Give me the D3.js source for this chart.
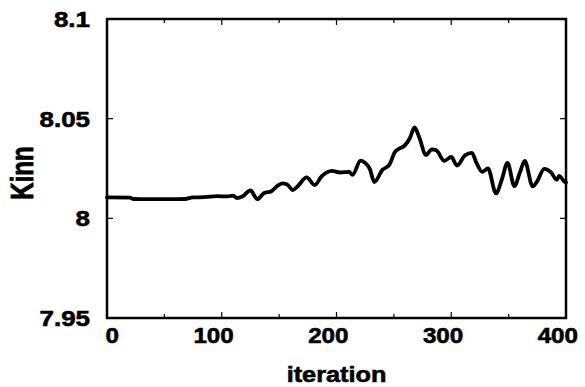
<!DOCTYPE html>
<html><head><meta charset="utf-8">
<script src="https://cdn.jsdelivr.net/npm/d3@7"></script>
<style>
body{margin:0;background:#fff;}
text{font-family:"Liberation Sans",Arial,sans-serif;font-weight:bold;fill:#000;stroke:#000;stroke-width:0.6;}
</style></head>
<body><div id="chart"></div>
<script>
const iterations = [0,20,23,37,55,68,75,85,96,105,110,113,118,125,131,137,143,149,153,157,162,166,174,181,187,196,203,211,214,221,225,229,233,240,246,251,255,259,264,268,272,278,283,287,294,300,305,312,318,322,327,332,339,344,349,355,360,364,371,375,381,387,392,394,399,400];
const kinn = [8.0105,8.0104,8.0097,8.0096,8.0096,8.0097,8.0105,8.0106,8.0111,8.0110,8.0114,8.0102,8.0110,8.0140,8.0096,8.0127,8.0135,8.0165,8.0175,8.0170,8.0142,8.0160,8.0205,8.0167,8.0210,8.0238,8.0230,8.0233,8.0218,8.0290,8.0278,8.0248,8.0182,8.0243,8.0268,8.0333,8.0351,8.0363,8.0403,8.0456,8.0408,8.0318,8.0346,8.0341,8.0288,8.0308,8.0265,8.0316,8.0328,8.0278,8.0233,8.0250,8.0125,8.0193,8.0278,8.0162,8.0233,8.0288,8.0160,8.0187,8.0248,8.0230,8.0193,8.0213,8.0182,8.0180];
const xTicks = [0,100,200,300,400];
const xMinor = [50,150,250,350];
const yTicks = [7.95,8,8.05,8.1];
const yTickLabels = ["7.95","8","8.05","8.1"];
const xTitle = "iteration";
const yTitle = "Kinn";

const W = 585, H = 387;
const L = 107, R = 566, T = 19, B = 318;
const svg = d3.select("#chart").append("svg").attr("width", W).attr("height", H);
const x = d3.scaleLinear().domain([0,400]).range([L,R]);
const y = d3.scaleLinear().domain([7.95,8.1]).range([B,T]);

const data = iterations.map((d,i)=>({i:d,v:kinn[i]}));
svg.append("path").datum(data)
  .attr("fill","none").attr("stroke","#000").attr("stroke-width",3.8)
  .attr("stroke-linejoin","round").attr("stroke-linecap","round")
  .attr("d", d3.line().x(d=>x(d.i)).y(d=>y(d.v)).curve(d3.curveMonotoneX));

const tg = svg.append("g").attr("stroke","#000").attr("stroke-width",1.2);
xTicks.forEach(t=>{
  tg.append("line").attr("x1",x(t)).attr("x2",x(t)).attr("y1",B).attr("y2",B-6);
  tg.append("line").attr("x1",x(t)).attr("x2",x(t)).attr("y1",T).attr("y2",T+6);
});
xMinor.forEach(t=>{
  tg.append("line").attr("x1",x(t)).attr("x2",x(t)).attr("y1",B).attr("y2",B-4);
  tg.append("line").attr("x1",x(t)).attr("x2",x(t)).attr("y1",T).attr("y2",T+4);
});
yTicks.forEach(t=>{
  tg.append("line").attr("y1",y(t)).attr("y2",y(t)).attr("x1",L).attr("x2",L+6);
  tg.append("line").attr("y1",y(t)).attr("y2",y(t)).attr("x1",R).attr("x2",R-6);
});

svg.append("rect").attr("x",L).attr("y",T).attr("width",R-L).attr("height",B-T)
  .attr("fill","none").attr("stroke","#000").attr("stroke-width",2.5);

xTicks.forEach(t=>{
  svg.append("text").attr("transform",`translate(${x(t)+12},${B+25}) scale(1.1,1)`)
    .attr("text-anchor","end").attr("font-size",22).text(d3.format("d")(t));
});
yTicks.forEach((t,i)=>{
  svg.append("text").attr("transform",`translate(${L-17},${y(t)+8}) scale(1.18,1)`)
    .attr("text-anchor","end").attr("font-size",22).text(yTickLabels[i]);
});
svg.append("text").attr("transform",`translate(${(L+R)/2},382) scale(1.15,1)`)
  .attr("text-anchor","middle").attr("font-size",22).text(xTitle);
svg.append("text").attr("transform","translate(33,173) scale(1.3,1) rotate(-90)")
  .attr("text-anchor","middle").attr("font-size",24).text(yTitle);
</script></body></html>
